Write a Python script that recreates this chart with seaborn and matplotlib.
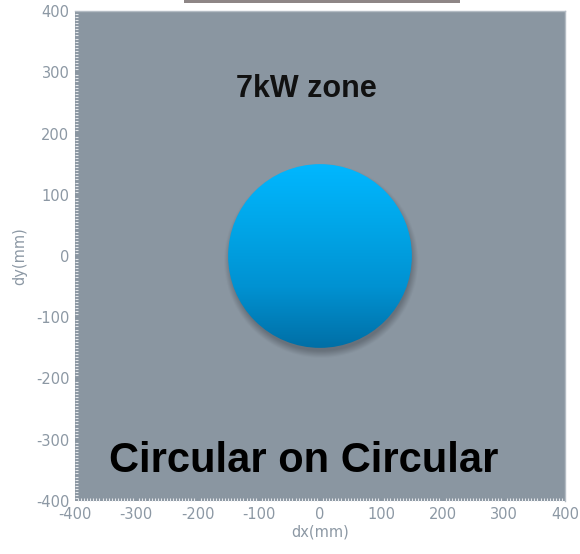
import numpy as np
import matplotlib
matplotlib.use("Agg")
import matplotlib.pyplot as plt
from matplotlib.patches import Circle, Rectangle
from matplotlib.ticker import MultipleLocator
from matplotlib.colors import LinearSegmentedColormap
import seaborn as sns

# Zone geometry (mm)
zone_center = [0.0, 0.0]
zone_radius = 150.0
axis_limits = [-400, 400]
tick_values = [-400, -300, -200, -100, 0, 100, 200, 300, 400]
zone_label = "7kW zone"
zone_label_pos = [-23, 272]
title_text = "Circular on Circular"
title_pos = [-27, -335]
x_label = "dx(mm)"
y_label = "dy(mm)"

sns.set_style("white")
plt.rcParams['font.family'] = ['Liberation Sans', 'DejaVu Sans']
plt.rcParams['axes.unicode_minus'] = False

fig = plt.figure(figsize=(5.8, 5.54), dpi=100)
ax = fig.add_axes([75 / 580, 53 / 554, 490 / 580, 490 / 554])

bg = "#8a96a1"
ax.set_facecolor(bg)
ax.set_xlim(axis_limits)
ax.set_ylim(axis_limits)
ax.set_aspect("equal")

cx, cy = zone_center
r = zone_radius

# soft drop shadow under the disc, offset downwards
n = 400
gx = np.linspace(axis_limits[0], axis_limits[1], n)
gy = np.linspace(axis_limits[0], axis_limits[1], n)
X, Y = np.meshgrid(gx, gy)
d = np.hypot(X - (cx + 2), Y - (cy - 8)) - (r - 3)
shadow_alpha = np.clip(0.45 * (1 - d / 12), 0, 0.45)
shadow = np.zeros((n, n, 4))
shadow[..., :3] = np.array([62, 68, 76]) / 255
shadow[..., 3] = shadow_alpha
ax.imshow(shadow, extent=[axis_limits[0], axis_limits[1], axis_limits[0], axis_limits[1]],
          origin="lower", zorder=1, interpolation="bilinear")

# vertical blue gradient clipped to the disc
cmap = LinearSegmentedColormap.from_list(
    "zone", ["#006fa6", "#0092d2", "#00a6e8", "#00b7ff"])
grad = np.linspace(0, 1, 256).reshape(-1, 1)
im = ax.imshow(grad, cmap=cmap, origin="lower", aspect="auto",
               extent=[cx - r, cx + r, cy - r, cy + r], zorder=2)
disc = Circle((cx, cy), r, transform=ax.transData, facecolor="none", edgecolor="none")
ax.add_patch(disc)
im.set_clip_path(disc)

ax.set_xlim(axis_limits)
ax.set_ylim(axis_limits)

ax.text(zone_label_pos[0], zone_label_pos[1], zone_label, ha="center", va="center",
        fontsize=22, fontweight="bold", color="#111111", zorder=5)
ax.text(title_pos[0], title_pos[1], title_text, ha="center", va="center",
        fontsize=30, fontweight="bold", color="#000000", zorder=5)

tick_color = "#8c98a4"
narrow = ['Liberation Sans Narrow', 'DejaVu Sans']
ax.set_xticks(tick_values)
ax.set_yticks(tick_values)
ax.xaxis.set_minor_locator(MultipleLocator(5))
ax.yaxis.set_minor_locator(MultipleLocator(5))
ax.tick_params(axis="both", which="major", length=0, pad=4, labelsize=10.5,
               labelcolor=tick_color)
ax.tick_params(axis="both", which="minor", direction="in", length=2.2, width=0.8,
               color="#e6e9ec", bottom=True, left=True, top=False, right=False)
for lab in ax.get_xticklabels() + ax.get_yticklabels():
    lab.set_family(narrow)

ax.set_xlabel(x_label, fontsize=10.5, color=tick_color, labelpad=2, family=narrow)
ax.set_ylabel(y_label, fontsize=10.5, color=tick_color, labelpad=6, family=narrow)

for side in ["left", "bottom"]:
    ax.spines[side].set_visible(False)
for side in ["top", "right"]:
    ax.spines[side].set_color("#b4bcc4")
    ax.spines[side].set_linewidth(1.0)

# thin strip along the top edge of the figure
fig.patches.append(Rectangle((184 / 580, 1 - 3 / 554), (460 - 184) / 580, 3 / 554,
                             transform=fig.transFigure, facecolor="#8e8686",
                             edgecolor="none", zorder=0))

fig.savefig("out.png", dpi=100)
